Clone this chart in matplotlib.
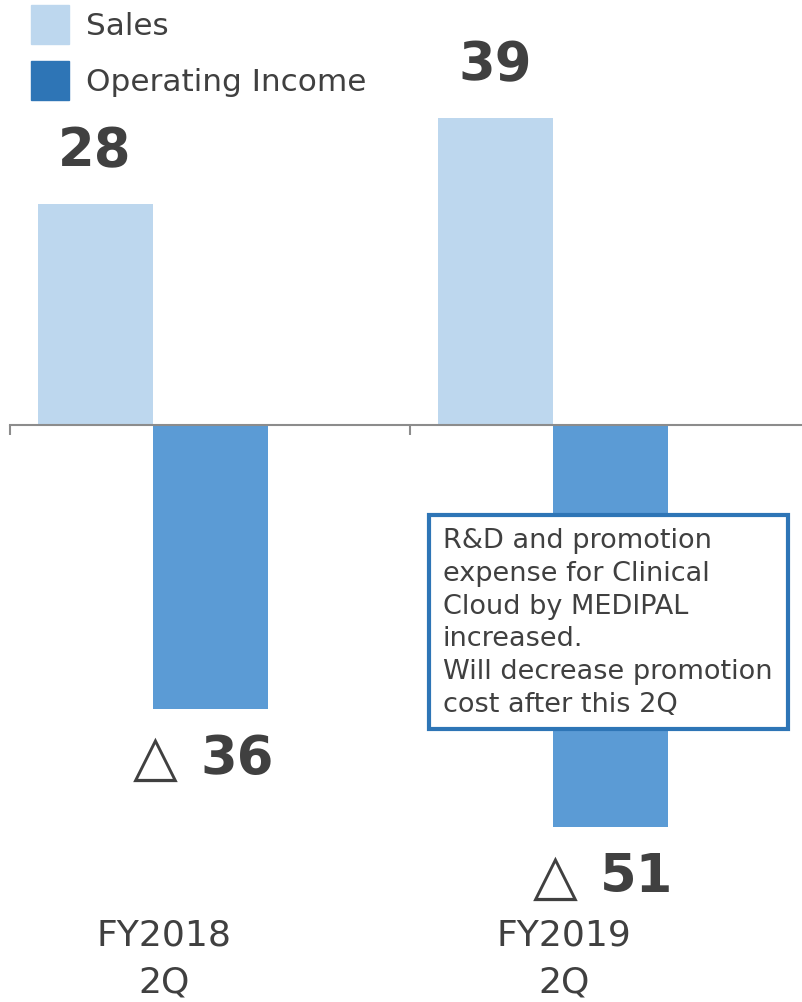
import numpy as np
import matplotlib.pyplot as plt
from matplotlib.patches import Patch, Rectangle

categories = ['FY2018\n2Q', 'FY2019\n2Q']
sales = [28, 39]
op_income = [-36, -51]
note = ('R&D and promotion\nexpense for Clinical\nCloud by MEDIPAL\nincreased.\n'
        'Will decrease promotion\ncost after this 2Q')

c_sales = '#BDD7EE'
c_oi = '#5B9BD5'
c_oi_leg = '#2E75B6'
c_text = '#404040'

W, H = 802, 1002
fig = plt.figure(figsize=(W / 100, H / 100), dpi=100)
ax = fig.add_axes([10 / W, 0, 1 - 10 / W, 1])

x = np.arange(len(categories))
bw = 0.2875
ax.bar(x - bw, sales, bw, color=c_sales, align='center', zorder=2)
ax.bar(x, op_income, bw, color=c_oi, align='center', zorder=2)

for s in ['top', 'right', 'left']:
    ax.spines[s].set_visible(False)
ax.spines['bottom'].set_position(('data', 0))
ax.spines['bottom'].set_color('#8c8c8c')
ax.spines['bottom'].set_linewidth(1.5)
ax.set_xticks([-0.5, 0.5, 1.5])
ax.set_xticklabels([])
ax.tick_params(axis='x', direction='out', length=7.5, width=1.5, color='#8c8c8c')
ax.set_yticks([])

ax.set_xlim(-0.5, -0.5 + (W - 10) / 400)
ppu = 7.88
ax.set_ylim(-(H - 425) / ppu, 425 / ppu)

# value labels
for xi, v in zip(x, sales):
    ax.annotate(str(v), (xi - bw, v), xytext=(0, 38), textcoords='offset points',
                ha='center', va='center', fontsize=38, fontweight='bold', color=c_text)
for xi, v in zip(x, op_income):
    ax.annotate(str(abs(v)), (xi, v), xytext=(-7, -36), textcoords='offset points',
                ha='left', va='center', fontsize=38, fontweight='bold', color=c_text)
    ax.annotate('△', (xi, v), xytext=(-23, -36), textcoords='offset points',
                ha='right', va='center', fontsize=42, color=c_text)

# category labels
for xi, lab in zip(x, categories):
    ax.text(xi - 0.115, -(959 - 425) / ppu, lab, ha='center', va='center',
            fontsize=26, color=c_text, linespacing=1.5)

# legend
handles = [Patch(color=c_sales, label='Sales'), Patch(color=c_oi_leg, label='Operating Income')]
fig.legend(handles=handles, loc='upper left', bbox_to_anchor=(31 / W, 1 - 5 / H),
           frameon=False, fontsize=22.4, handlelength=1.22, handleheight=1.55,
           handletextpad=0.55, labelspacing=0.55, borderpad=0, borderaxespad=0,
           labelcolor=c_text)

# note box
fig.add_artist(Rectangle((429 / W, 1 - 729 / H), 359 / W, 214 / H, transform=fig.transFigure,
                         facecolor='white', edgecolor=c_oi_leg, linewidth=3, zorder=5))
fig.text(443 / W, 1 - 528 / H, note, ha='left', va='top', fontsize=19.5,
         color=c_text, linespacing=1.34, zorder=6)

fig.savefig('out.png', dpi=100)
